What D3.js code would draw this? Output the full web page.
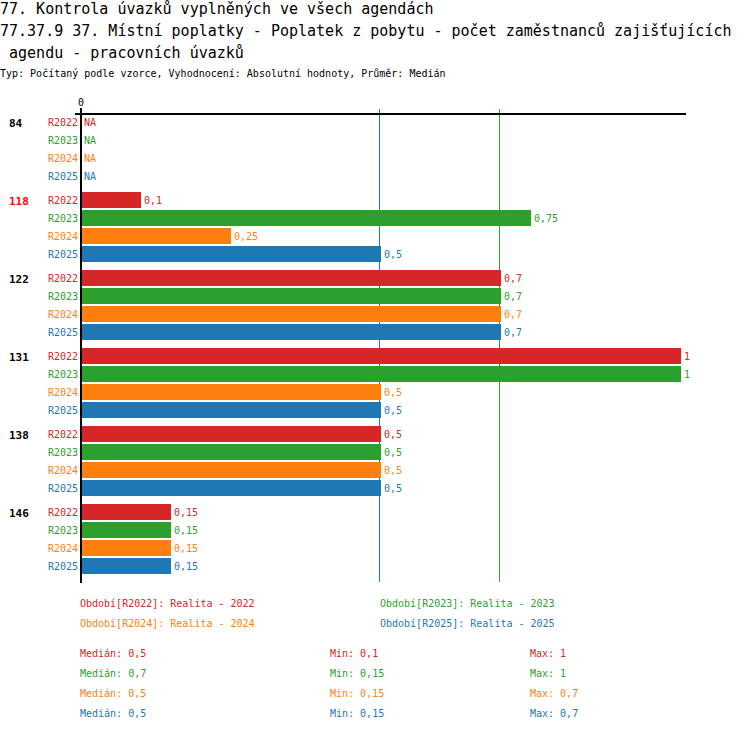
<!DOCTYPE html>
<html><head><meta charset="utf-8">
<script src="https://cdn.jsdelivr.net/npm/d3@7"></script>
<style>body{margin:0;background:#fff}svg{display:block}text{font-family:"DejaVu Sans Mono",monospace}</style>
</head><body>
<script>
const titleLines = ["77. Kontrola úvazků vyplněných ve všech agendách",
  "77.37.9 37. Místní poplatky - Poplatek z pobytu - počet zaměstnanců zajišťujících",
  " agendu - pracovních úvazků"];
const subtitle = "Typ: Počítaný podle vzorce, Vyhodnocení: Absolutní hodnoty, Průměr: Medián";
const groups = ["84","118","122","131","138","146"];
const highlighted = "118";
const seriesNames = ["R2022","R2023","R2024","R2025"];
const seriesColors = ["#d62728","#2ca02c","#ff7f0e","#1f77b4"];
const legendLabels = ["Období[R2022]: Realita - 2022","Období[R2023]: Realita - 2023","Období[R2024]: Realita - 2024","Období[R2025]: Realita - 2025"];
const R2022 = [null, 0.1, 0.7, 1, 0.5, 0.15];
const R2023 = [null, 0.75, 0.7, 1, 0.5, 0.15];
const R2024 = [null, 0.25, 0.7, 0.5, 0.5, 0.15];
const R2025 = [null, 0.5, 0.7, 0.5, 0.5, 0.15];
const seriesValues = [R2022, R2023, R2024, R2025];
const xTicks = [0];

const W = 750, H = 732;
const svg = d3.select("body").append("svg").attr("width", W).attr("height", H);
const fmt = v => String(+v.toFixed(4)).replace(".", ",");

// titles
titleLines.forEach((t, i) => {
  svg.append("text").attr("x", 0).attr("y", 14 + i * 22).attr("font-size", 15)
    .attr("fill", "#000").attr("xml:space", "preserve").style("white-space", "pre").text(t);
});
svg.append("text").attr("x", 0).attr("y", 77).attr("font-size", 10).text(subtitle);

const x = d3.scaleLinear().domain([0, 1]).range([81, 681]);
const y0 = d3.scaleBand().domain(groups).range([114, 114 + groups.length * 78]);
const y1 = d3.scaleBand().domain(seriesNames).range([-1, 71]).paddingInner(1/9).paddingOuter(1/18);

// median lines
seriesNames.forEach((s, i) => {
  const vals = seriesValues[i].filter(v => v != null);
  const m = d3.median(vals);
  const lx = Math.round(x(m)) - 2;
  svg.append("rect").attr("x", lx).attr("y", 109).attr("width", 1).attr("height", 473)
    .attr("fill", seriesColors[i]).attr("shape-rendering", "crispEdges");
});

// axes lines
svg.append("line").attr("x1", 75).attr("x2", 686).attr("y1", 114).attr("y2", 114).attr("stroke", "#000").attr("stroke-width", 2);
svg.append("line").attr("x1", x(0)).attr("x2", x(0)).attr("y1", 108).attr("y2", 583).attr("stroke", "#000").attr("stroke-width", 2);
xTicks.forEach(t => svg.append("text").attr("x", x(t)).attr("y", 106).attr("font-size", 10).attr("text-anchor", "middle").text(String(t)));

// groups
groups.forEach((g, gi) => {
  const gy = y0(g);
  svg.append("text").attr("x", 9).attr("y", gy + y1("R2022") + y1.bandwidth() / 2 + 4.5)
    .attr("font-size", 11).attr("font-weight", "bold").attr("fill", g === highlighted ? "#ff0000" : "#000").text(g);
  seriesNames.forEach((s, si) => {
    const v = seriesValues[si][gi];
    const by = gy + y1(s);
    const cy = by + y1.bandwidth() / 2 + 3.5;
    svg.append("text").attr("x", 78).attr("y", cy).attr("font-size", 10).attr("text-anchor", "end")
      .attr("fill", seriesColors[si]).text(s);
    if (v == null) {
      svg.append("text").attr("x", 84).attr("y", cy).attr("font-size", 10).attr("fill", seriesColors[si]).text("NA");
    } else {
      svg.append("rect").attr("x", x(0) + 1).attr("y", by).attr("width", x(v) - x(0) - 1).attr("height", y1.bandwidth())
        .attr("fill", seriesColors[si]);
      svg.append("text").attr("x", x(v) + 3).attr("y", cy).attr("font-size", 10).attr("fill", seriesColors[si]).text(fmt(v));
    }
  });
});

// legend
legendLabels.forEach((l, i) => {
  svg.append("text").attr("x", i % 2 === 0 ? 80 : 380).attr("y", 607 + Math.floor(i / 2) * 20)
    .attr("font-size", 10).attr("fill", seriesColors[i]).text(l);
});

// stats
seriesNames.forEach((s, i) => {
  const vals = seriesValues[i].filter(v => v != null);
  const yy = 657 + i * 20;
  svg.append("text").attr("x", 80).attr("y", yy).attr("font-size", 10).attr("fill", seriesColors[i]).text("Medián: " + fmt(d3.median(vals)));
  svg.append("text").attr("x", 330).attr("y", yy).attr("font-size", 10).attr("fill", seriesColors[i]).text("Min: " + fmt(d3.min(vals)));
  svg.append("text").attr("x", 530).attr("y", yy).attr("font-size", 10).attr("fill", seriesColors[i]).text("Max: " + fmt(d3.max(vals)));
});
</script>
</body></html>
